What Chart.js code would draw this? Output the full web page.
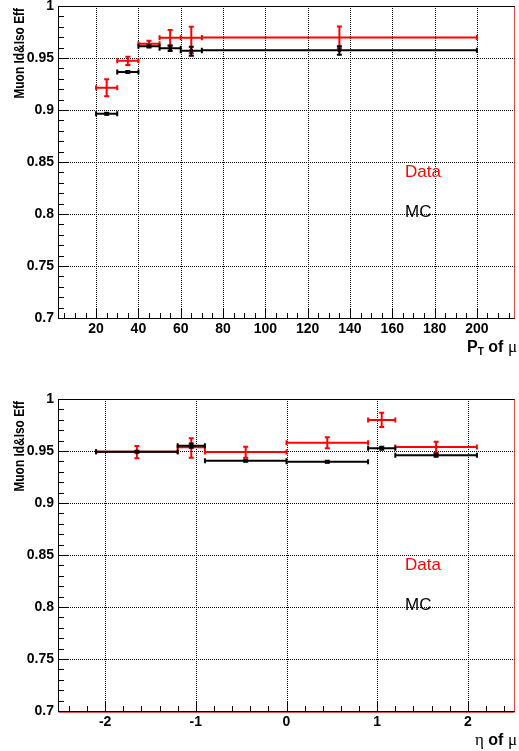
<!DOCTYPE html>
<html><head><meta charset="utf-8">
<script src="https://cdn.jsdelivr.net/npm/chart.js@4.4.1/dist/chart.umd.min.js"></script>
<style>
html,body{margin:0;padding:0;background:#fff;width:519px;height:751px;overflow:hidden}
canvas{position:absolute;left:0}
#c1{top:0}
#c2{top:375px}
</style></head><body>
<canvas id="c1" width="519" height="375"></canvas>
<canvas id="c2" width="519" height="376"></canvas>
<script>
// ---------- data: efficiency vs pT ----------
const ptBinLow   = [20, 30, 40, 50, 60, 70];
const ptBinHigh  = [30, 40, 50, 60, 70, 200];
const ptCenter   = [25, 35, 45, 55, 65, 135];
const ptDataEff     = [0.9214, 0.9474, 0.9637, 0.9695, 0.9695, 0.9698];
const ptDataErrUp   = [0.0081, 0.0038, 0.0029, 0.0074, 0.0106, 0.0104];
const ptDataErrDown = [0.0082, 0.0041, 0.0028, 0.0077, 0.0150, 0.0104];
const ptMcEff       = [0.8964, 0.9365, 0.9612, 0.9593, 0.9570, 0.9574];
const ptMcErrUp     = [0.0010, 0.0010, 0.0010, 0.0026, 0.0038, 0.0040];
const ptMcErrDown   = [0.0010, 0.0010, 0.0010, 0.0026, 0.0048, 0.0043];

// ---------- data: efficiency vs eta ----------
const etaBinLow  = [-2.1, -1.2, -0.9, 0.0, 0.9, 1.2];
const etaBinHigh = [-1.2, -0.9, 0.0, 0.9, 1.2, 2.1];
const etaCenter  = [-1.65, -1.05, -0.45, 0.45, 1.05, 1.65];
const etaDataEff     = [0.9493, 0.9536, 0.9490, 0.9580, 0.9798, 0.9538];
const etaDataErrUp   = [0.0055, 0.0086, 0.0051, 0.0052, 0.0070, 0.0052];
const etaDataErrDown = [0.0063, 0.0100, 0.0054, 0.0054, 0.0067, 0.0054];
const etaMcEff       = [0.9493, 0.9551, 0.9407, 0.9397, 0.9526, 0.9459];
const etaMcErrUp     = [0.0010, 0.0020, 0.0010, 0.0010, 0.0015, 0.0015];
const etaMcErrDown   = [0.0010, 0.0020, 0.0010, 0.0010, 0.0015, 0.0015];

// ---------- axes ----------
const effMin = 0.7, effMax = 1.0;
const effTickValues = [0.7, 0.75, 0.8, 0.85, 0.9, 0.95, 1.0];
const effTickLabels = ['0.7', '0.75', '0.8', '0.85', '0.9', '0.95', '1'];
const ptMin = 2, ptMax = 218;
const ptTickValues = [20, 40, 60, 80, 100, 120, 140, 160, 180, 200];
const ptTickLabels = ['20', '40', '60', '80', '100', '120', '140', '160', '180', '200'];
const etaMin = -2.52, etaMax = 2.52;
const etaTickValues = [-2, -1, 0, 1, 2];
const etaTickLabels = ['-2', '-1', '0', '1', '2'];
const yTitle = 'Muon Id&Iso Eff';
const legendData = 'Data', legendMC = 'MC';

const RED = '#ff0000', BLACK = '#000000';
const tickFont = {family: "'Liberation Sans', Arial, sans-serif", weight: 'bold', size: 14};

const rootStyle = {
  id: 'rootStyle',
  beforeDatasetsDraw(chart) {
    const o = chart.options.plugins.rootStyle;
    const {ctx, chartArea: a, scales: {x, y}} = chart;
    ctx.save();
    // dotted grid at major ticks
    ctx.strokeStyle = '#000000';
    ctx.lineWidth = 1;
    ctx.setLineDash([1, 1]);
    o.xMajor.forEach(v => {
      const px = Math.round(x.getPixelForValue(v)) + 0.5;
      ctx.beginPath(); ctx.moveTo(px, a.top); ctx.lineTo(px, a.bottom); ctx.stroke();
    });
    o.yMajor.forEach(v => {
      const py = Math.round(y.getPixelForValue(v)) + 0.5;
      ctx.beginPath(); ctx.moveTo(a.left, py); ctx.lineTo(a.right, py); ctx.stroke();
    });
    ctx.setLineDash([]);
    // ticks (inside frame)
    ctx.strokeStyle = BLACK;
    ctx.beginPath();
    for (let k = Math.ceil(effMin * 100); k <= Math.floor(effMax * 100); k++) {
      const py = Math.round(y.getPixelForValue(k / 100)) + 0.5;
      const len = (k % 5 === 0) ? 10 : 6;
      ctx.moveTo(a.left, py); ctx.lineTo(a.left + len, py);
    }
    const step = o.xMinorStep;
    for (let k = Math.ceil(x.min / step); k <= Math.floor(x.max / step); k++) {
      const v = k * step;
      const px = Math.round(x.getPixelForValue(v)) + 0.5;
      const major = Math.abs(k % o.xMinorPerMajor) < 1e-9;
      const len = major ? 10 : 5;
      ctx.moveTo(px, a.bottom); ctx.lineTo(px, a.bottom - len);
    }
    ctx.stroke();
    // error bars
    o.series.forEach(s => {
      ctx.strokeStyle = s.color;
      ctx.lineWidth = 2;
      ctx.beginPath();
      for (let i = 0; i < s.val.length; i++) {
        const x1 = x.getPixelForValue(s.low[i]), x2 = x.getPixelForValue(s.high[i]);
        const xc = x.getPixelForValue(s.center[i]);
        const yc = y.getPixelForValue(s.val[i]);
        const yt = y.getPixelForValue(s.val[i] + s.up[i]);
        const yb = y.getPixelForValue(s.val[i] - s.down[i]);
        ctx.moveTo(x1, yc); ctx.lineTo(x2, yc);
        ctx.moveTo(x1, yc - 2.5); ctx.lineTo(x1, yc + 2.5);
        ctx.moveTo(x2, yc - 2.5); ctx.lineTo(x2, yc + 2.5);
        ctx.moveTo(xc, yt); ctx.lineTo(xc, yb);
        ctx.moveTo(xc - 2.5, yt); ctx.lineTo(xc + 2.5, yt);
        ctx.moveTo(xc - 2.5, yb); ctx.lineTo(xc + 2.5, yb);
      }
      ctx.stroke();
    });
    ctx.restore();
  },
  afterDraw(chart) {
    const o = chart.options.plugins.rootStyle;
    const {ctx, chartArea: a} = chart;
    ctx.save();
    // frame
    ctx.lineWidth = 1;
    const L = Math.round(a.left) + 0.5, R = Math.round(a.right) - 0.5;
    const T = Math.round(a.top) + 0.5, B = Math.round(a.bottom) + 0.5;
    ctx.strokeStyle = BLACK;
    ctx.beginPath();
    ctx.moveTo(L, T); ctx.lineTo(R, T);
    ctx.moveTo(L, T); ctx.lineTo(L, B);
    ctx.moveTo(L, B); ctx.lineTo(R, B);
    ctx.stroke();
    if (o.redBottom) {
      ctx.strokeStyle = 'rgba(220,40,40,0.8)';
      ctx.beginPath(); ctx.moveTo(L, B + 1); ctx.lineTo(R, B + 1); ctx.stroke();
    }
    ctx.strokeStyle = 'rgba(220,40,40,0.85)';
    ctx.beginPath(); ctx.moveTo(R, T); ctx.lineTo(R, B); ctx.stroke();

    // y title
    ctx.fillStyle = BLACK;
    ctx.save();
    ctx.translate(24, a.top + 2);
    ctx.rotate(-Math.PI / 2);
    ctx.scale(0.85, 1);
    ctx.font = "bold 14px 'Liberation Sans', Arial, sans-serif";
    ctx.textAlign = 'right';
    ctx.textBaseline = 'alphabetic';
    ctx.fillText(yTitle, 0, 0);
    ctx.restore();

    // x title (right aligned)
    const segs = o.xTitle;
    let total = 0;
    segs.forEach(s => { ctx.font = s.font; s.w = ctx.measureText(s.t).width; total += s.w; });
    let cx = 517 - total;
    const base = a.bottom + 34;
    ctx.textAlign = 'left';
    ctx.textBaseline = 'alphabetic';
    segs.forEach(s => { ctx.font = s.font; ctx.fillText(s.t, cx, base + (s.dy || 0)); cx += s.w; });

    // legend labels
    ctx.font = "17px 'Liberation Sans', Arial, sans-serif";
    ctx.fillStyle = RED;
    ctx.fillText(legendData, 405, a.top + 171);
    ctx.fillStyle = BLACK;
    ctx.fillText(legendMC, 405, a.top + 211);
    ctx.restore();
  }
};

function makeChart(id, cfg) {
  return new Chart(document.getElementById(id), {
    type: 'scatter',
    data: {
      datasets: [
        {label: legendData, data: cfg.center.map((c, i) => ({x: c, y: cfg.dataEff[i]})),
         pointRadius: 0, backgroundColor: RED, borderColor: RED},
        {label: legendMC, data: cfg.center.map((c, i) => ({x: c, y: cfg.mcEff[i]})),
         pointStyle: 'rect', pointRadius: 2.4, pointBorderWidth: 0, backgroundColor: BLACK, borderColor: BLACK}
      ]
    },
    options: {
      responsive: false, animation: false, devicePixelRatio: 1,
      layout: {padding: {left: 0, right: 1, top: cfg.padTop, bottom: 0}},
      plugins: {
        legend: {display: false}, tooltip: {enabled: false},
        rootStyle: {
          xMajor: cfg.xTicks, yMajor: effTickValues,
          xMinorStep: cfg.minorStep, xMinorPerMajor: cfg.minorPerMajor,
          redBottom: cfg.redBottom, xTitle: cfg.xTitle,
          series: [
            {low: cfg.low, high: cfg.high, center: cfg.center, val: cfg.dataEff, up: cfg.dataUp, down: cfg.dataDown, color: RED},
            {low: cfg.low, high: cfg.high, center: cfg.center, val: cfg.mcEff, up: cfg.mcUp, down: cfg.mcDown, color: BLACK}
          ]
        }
      },
      scales: {
        x: {
          type: 'linear', min: cfg.xMin, max: cfg.xMax,
          afterBuildTicks: s => { s.ticks = cfg.xTicks.map(v => ({value: v})); },
          afterFit: s => { s.height = cfg.xAxisH; s.paddingLeft = 0; s.paddingRight = 0; },
          grid: {display: false, drawTicks: false}, border: {display: false},
          ticks: {font: tickFont, color: BLACK, padding: 3, maxRotation: 0, autoSkip: false,
                  callback: (v, i) => cfg.xLabels[i]}
        },
        y: {
          type: 'linear', min: effMin, max: effMax,
          afterBuildTicks: s => { s.ticks = effTickValues.map(v => ({value: v})); },
          afterFit: s => { s.width = 58; s.paddingTop = 0; s.paddingBottom = 0; },
          grid: {display: false, drawTicks: false}, border: {display: false},
          ticks: {font: tickFont, color: BLACK, padding: 4, autoSkip: false,
                  callback: (v, i) => effTickLabels[i]}
        }
      }
    },
    plugins: [rootStyle]
  });
}

const boldF = "bold 16px 'Liberation Sans', Arial, sans-serif";
const subF = "bold 10px 'Liberation Sans', Arial, sans-serif";
const greekF = "17px 'Liberation Serif', 'DejaVu Serif', serif";

makeChart('c1', {
  low: ptBinLow, high: ptBinHigh, center: ptCenter,
  dataEff: ptDataEff, dataUp: ptDataErrUp, dataDown: ptDataErrDown,
  mcEff: ptMcEff, mcUp: ptMcErrUp, mcDown: ptMcErrDown,
  xMin: ptMin, xMax: ptMax, xTicks: ptTickValues, xLabels: ptTickLabels,
  minorStep: 5, minorPerMajor: 4, padTop: 6, xAxisH: 57, redBottom: false,
  xTitle: [{t: 'P', font: boldF}, {t: 'T', font: subF, dy: 3}, {t: ' of ', font: boldF}, {t: 'μ', font: greekF}]
});
makeChart('c2', {
  low: etaBinLow, high: etaBinHigh, center: etaCenter,
  dataEff: etaDataEff, dataUp: etaDataErrUp, dataDown: etaDataErrDown,
  mcEff: etaMcEff, mcUp: etaMcErrUp, mcDown: etaMcErrDown,
  xMin: etaMin, xMax: etaMax, xTicks: etaTickValues, xLabels: etaTickLabels,
  minorStep: 0.2, minorPerMajor: 5, padTop: 24, xAxisH: 40, redBottom: true,
  xTitle: [{t: 'η', font: greekF}, {t: ' of ', font: boldF}, {t: 'μ', font: greekF}]
});
</script>
</body></html>
